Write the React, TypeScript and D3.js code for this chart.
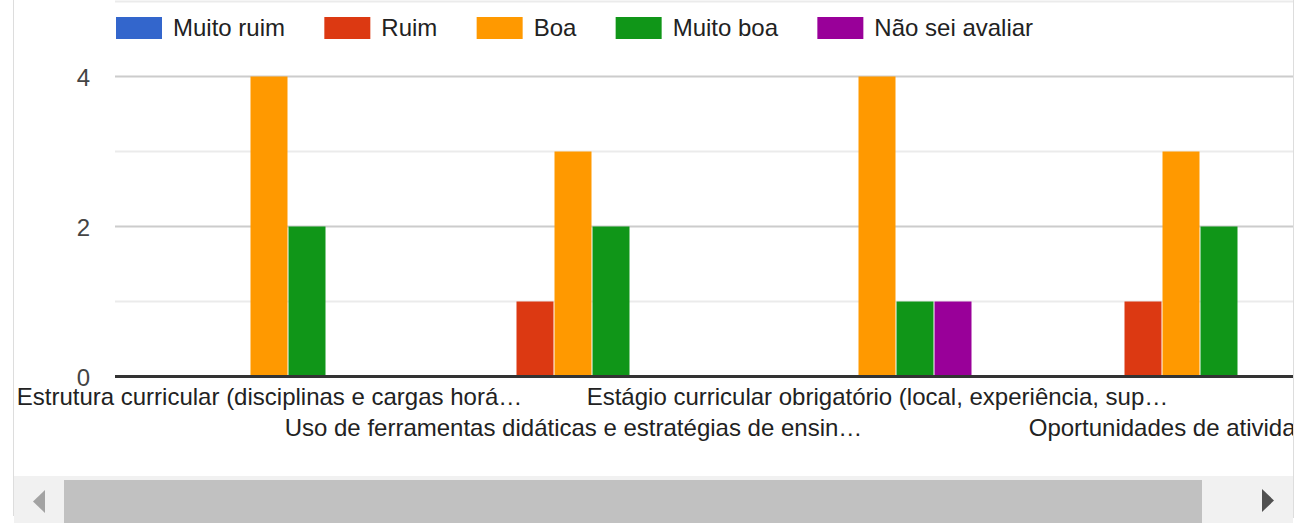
import React, { useEffect, useRef } from "react";
import * as d3 from "d3";

const categories = [
  "Estrutura curricular (disciplinas e cargas horá…",
  "Uso de ferramentas didáticas e estratégias de ensin…",
  "Estágio curricular obrigatório (local, experiência, sup…",
  "Oportunidades de atividades",
];
const seriesNames = ["Muito ruim", "Ruim", "Boa", "Muito boa", "Não sei avaliar"];
const seriesColors = ["#3366cc", "#dc3912", "#ff9900", "#109618", "#990099"];
const muitoRuim = [0, 0, 0, 0];
const ruim = [0, 1, 0, 1];
const boa = [4, 3, 4, 3];
const muitoBoa = [2, 2, 1, 2];
const naoSei = [0, 0, 1, 0];
const yTicks = [0, 1, 2, 3, 4, 5];
const yLabelTicks = [0, 2, 4];

const W = 1299;
const H = 523;
const FONT = "Arial, 'Liberation Sans', sans-serif";

export default function App() {
  const ref = useRef<SVGSVGElement>(null);

  useEffect(() => {
    document.body.style.margin = "0";
    document.body.style.overflow = "hidden";
    const svg = d3.select(ref.current);
    svg.selectAll("*").remove();

    const values = [muitoRuim, ruim, boa, muitoBoa, naoSei];
    const plotLeft = 115;
    const plotRight = 1293;

    const y = d3.scaleLinear().domain([0, 4]).range([376.5, 76.5]);
    const x0 = d3
      .scaleBand<string>()
      .domain(categories)
      .range([117.5, 117.5 + 304 * categories.length])
      .paddingInner(0.375)
      .paddingOuter(0.1875);
    const x1 = d3.scaleBand<string>().domain(seriesNames).range([0, x0.bandwidth()]).padding(0);

    const defs = svg.append("defs");
    defs
      .append("clipPath")
      .attr("id", "clipChart")
      .append("rect")
      .attr("x", 14)
      .attr("y", 0)
      .attr("width", plotRight - 14)
      .attr("height", 476);

    svg.append("rect").attr("width", W).attr("height", H).attr("fill", "#fff");

    const g = svg.append("g").attr("clip-path", "url(#clipChart)");

    // gridlines
    g.selectAll("line.grid")
      .data(yTicks)
      .join("line")
      .attr("x1", plotLeft)
      .attr("x2", plotRight)
      .attr("y1", (d) => y(d))
      .attr("y2", (d) => y(d))
      .attr("stroke", (d) => (d % 2 === 0 ? "#cccccc" : "#ebebeb"))
      .attr("stroke-width", 2);

    // bars
    seriesNames.forEach((s, si) => {
      g.append("g")
        .selectAll("rect")
        .data(categories.map((c, ci) => ({ c, v: values[si][ci] })))
        .join("rect")
        .attr("x", (d) => (x0(d.c) as number) + (x1(s) as number))
        .attr("y", (d) => y(d.v))
        .attr("width", x1.bandwidth() - 1)
        .attr("height", (d) => y(0) - y(d.v))
        .attr("fill", seriesColors[si]);
    });

    // baseline
    g.append("line")
      .attr("x1", plotLeft)
      .attr("x2", plotRight)
      .attr("y1", y(0))
      .attr("y2", y(0))
      .attr("stroke", "#333333")
      .attr("stroke-width", 3);

    // y labels
    g.selectAll("text.ylab")
      .data(yLabelTicks)
      .join("text")
      .attr("x", 90)
      .attr("y", (d) => y(d) + 9.5)
      .attr("text-anchor", "end")
      .attr("font-family", FONT)
      .attr("font-size", 24)
      .attr("fill", "#444444")
      .text((d) => String(d));

    // x labels
    g.selectAll("text.xlab")
      .data(categories)
      .join("text")
      .attr("x", (d) => (x0(d) as number) + x0.bandwidth() / 2)
      .attr("y", (d, i) => (i % 2 === 0 ? 405 : 436))
      .attr("text-anchor", "middle")
      .attr("font-family", FONT)
      .attr("font-size", 24)
      .attr("fill", "#222222")
      .text((d) => d);

    // legend
    let lx = 116;
    seriesNames.forEach((s, si) => {
      g.append("rect")
        .attr("x", lx)
        .attr("y", 17)
        .attr("width", 46)
        .attr("height", 22)
        .attr("fill", seriesColors[si]);
      const t = g
        .append("text")
        .attr("x", lx + 57)
        .attr("y", 36)
        .attr("font-family", FONT)
        .attr("font-size", 24)
        .attr("fill", "#222222")
        .text(s);
      const tw = (t.node() as SVGTextElement).getComputedTextLength();
      lx = lx + 57 + tw + 39.3;
    });

    // scrollbar
    svg.append("rect").attr("x", 14).attr("y", 476).attr("width", plotRight - 14).attr("height", H - 476).attr("fill", "#f1f1f1");
    svg.append("rect").attr("x", 64).attr("y", 480).attr("width", 1202 - 64).attr("height", H - 480).attr("fill", "#c1c1c1");
    svg.append("path").attr("d", "M45,490 L45,513 L33,501.5 Z").attr("fill", "#a3a3a3");
    svg.append("path").attr("d", "M1262,489 L1262,512 L1274,500.5 Z").attr("fill", "#505050");

    // borders
    svg.append("line").attr("x1", 13.5).attr("x2", 13.5).attr("y1", 0).attr("y2", 516).attr("stroke", "#dddddd").attr("stroke-width", 1);
    svg.append("line").attr("x1", 1293.5).attr("x2", 1293.5).attr("y1", 0).attr("y2", 518).attr("stroke", "#dddddd").attr("stroke-width", 1);
  }, []);

  return (
    <svg
      ref={ref}
      width={W}
      height={H}
      style={{ position: "absolute", left: 0, top: 0, display: "block" }}
    />
  );
}
